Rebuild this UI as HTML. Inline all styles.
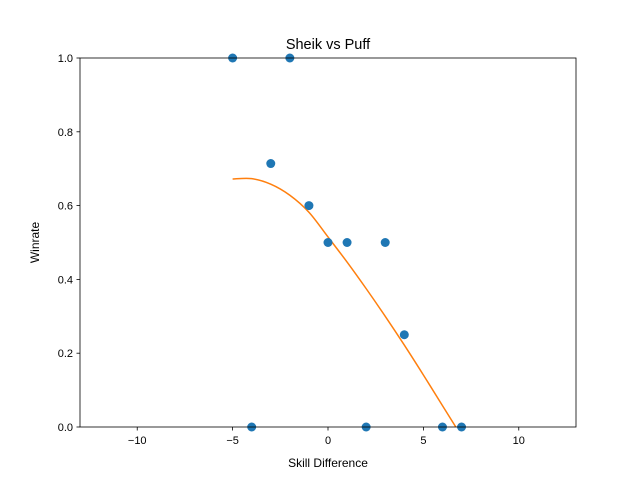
<!DOCTYPE html>
<html><head><meta charset="utf-8"><style>
body{margin:0;background:#fff;}
svg{display:block;font-family:"Liberation Sans","DejaVu Sans",sans-serif;}
</style></head><body>
<svg id="chart" width="640" height="480">
<rect width="640" height="480" fill="#fff"/>
<text x="328" y="49" font-size="14.5" text-anchor="middle">Sheik vs Puff</text>
<g id="marks"></g>
<g id="axes"></g>
<text x="328" y="467" font-size="12" text-anchor="middle">Skill Difference</text>
<text transform="translate(39,242.5) rotate(-90)" font-size="12" text-anchor="middle">Winrate</text>
</svg>
<script>
const pointX=[-5,-2,-3,-1,0,1,3,4,-4,2,6,7];
const pointY=[1,1,0.714,0.6,0.5,0.5,0.5,0.25,0,0,0,0];
const curveX=[-5,-4,-3,-2,-1,0,1,2,3,4,5,6,6.7];
const curveY=[0.672,0.673,0.658,0.628,0.582,0.515,0.447,0.375,0.3,0.222,0.141,0.058,0];
const xTicks=[-10,-5,0,5,10];
const yTicks=[0,0.2,0.4,0.6,0.8,1.0];
const L=80,R=576,T=58,B=427,xmin=-13,xmax=13,ymin=0,ymax=1;
const sx=v=>L+(v-xmin)/(xmax-xmin)*(R-L);
const sy=v=>B-(v-ymin)/(ymax-ymin)*(B-T);
const NS="http://www.w3.org/2000/svg";
const marks=document.getElementById('marks'),axes=document.getElementById('axes');
function mk(tag,attrs,parent){const e=document.createElementNS(NS,tag);for(const k in attrs)e.setAttribute(k,attrs[k]);parent.appendChild(e);return e;}
const defs=mk('defs',{},marks);const cp=mk('clipPath',{id:'clip'},defs);mk('rect',{x:L,y:T,width:R-L,height:B-T},cp);
const pts=curveX.map((x,i)=>[sx(x),sy(curveY[i])]);
let d='M'+pts[0][0]+','+pts[0][1];
for(let i=0;i<pts.length-1;i++){const p0=pts[Math.max(0,i-1)],p1=pts[i],p2=pts[i+1],p3=pts[Math.min(pts.length-1,i+2)];
d+=' C'+(p1[0]+(p2[0]-p0[0])/6)+','+(p1[1]+(p2[1]-p0[1])/6)+' '+(p2[0]-(p3[0]-p1[0])/6)+','+(p2[1]-(p3[1]-p1[1])/6)+' '+p2[0]+','+p2[1];}
const cg=mk('g',{'clip-path':'url(#clip)'},marks);
const p=mk('path',{d:d,fill:'none',stroke:'#ff7f0e','stroke-width':1.5},cg);


pointX.forEach((x,i)=>{const c=mk('circle',{cx:sx(x),cy:sy(pointY[i]),r:4.5,fill:'#1f77b4'},marks);

});
const fr=mk('rect',{x:L,y:T,width:R-L,height:B-T,fill:'none',stroke:'#000','stroke-width':0.8},axes);


xTicks.forEach(t=>{const x=sx(t);mk('line',{x1:x,x2:x,y1:B,y2:B+3.5,stroke:'#000','stroke-width':0.8},axes);
const tx=mk('text',{x:x,y:B+17,'font-size':11,'text-anchor':'middle'},axes);tx.textContent=(t<0?'\u2212'+(-t):t);

});
yTicks.forEach(t=>{const y=sy(t);mk('line',{x1:L-3.5,x2:L,y1:y,y2:y,stroke:'#000','stroke-width':0.8},axes);
const tx=mk('text',{x:L-7,y:y+4,'font-size':11,'text-anchor':'end'},axes);tx.textContent=t.toFixed(1);

});
</script>
</body></html>
